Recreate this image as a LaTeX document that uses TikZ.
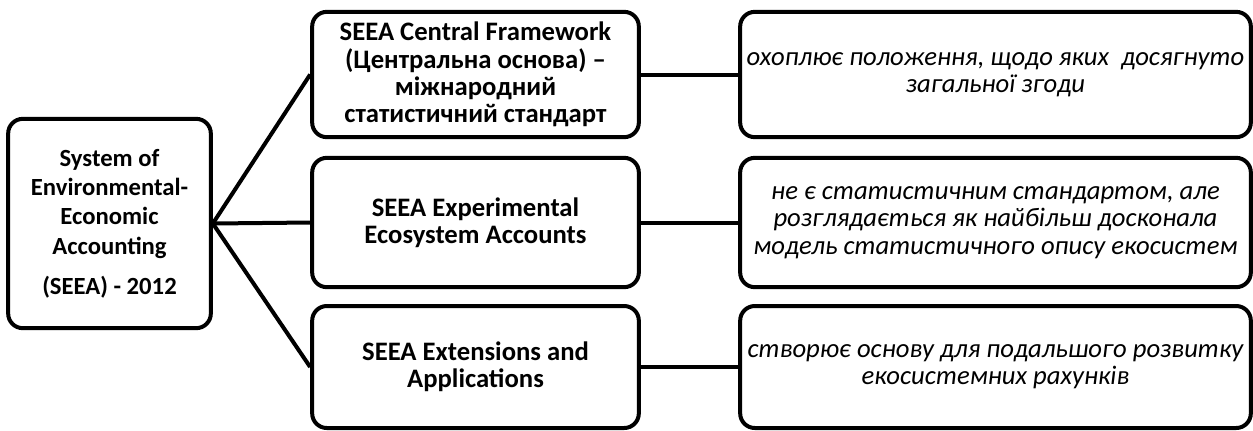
\documentclass[tikz,border=0pt]{standalone}
\usepackage{fontspec}
\setmainfont{Carlito}
\usepackage{tikz}
\usetikzlibrary{positioning}
\tikzstyle{mainbox} = [draw=black, line width=3pt, rounded corners=11pt, align=center, font=\fontsize{18.5}{22}\selectfont\bfseries, minimum width=152pt, minimum height=157pt, inner sep=0pt]
\tikzstyle{partbox} = [draw=black, line width=3pt, rounded corners=11pt, align=center, font=\fontsize{20}{20.5}\selectfont\bfseries, minimum width=245pt, inner sep=0pt]
\tikzstyle{notebox} = [draw=black, line width=3pt, rounded corners=11pt, align=center, font=\fontsize{20}{20.5}\selectfont\itshape, minimum width=383pt, inner sep=0pt]
\tikzstyle{link} = [line width=3pt]

\begin{document}
\begin{tikzpicture}[x=0.75pt,y=-0.75pt]
\useasboundingbox (0,0) rectangle (1253,430);
\node[mainbox] (seea) at (109.5,223.5) {System of\\Environmental-\\Economic\\Accounting\\[8pt](SEEA) - 2012};
\node[partbox, minimum height=94pt] (cf) at (475.5,74.5) {SEEA Central Framework\\(Центральна основа) --\\міжнародний\\статистичний стандарт};
\node[partbox, minimum height=97pt] (eea) at (475.5,222.5) {SEEA Experimental\\Ecosystem Accounts};
\node[partbox, minimum height=91.5pt] (ext) at (475.5,367) {SEEA Extensions and\\Applications};
\node[notebox, minimum height=94pt] (cfnote) at (995.5,74.5) {охоплює положення, щодо яких \ досягнуто\\загальної згоди};
\node[notebox, minimum height=97pt] (eeanote) at (995.5,222.5) {не є статистичним стандартом, але\\розглядається як найбільш досконала\\модель статистичного опису екосистем};
\node[notebox, minimum height=91.5pt] (extnote) at (995.5,367) {створює основу для подальшого розвитку\\екосистемних рахунків};
% from the whole to its parts
\draw[link] (seea.east) -- (cf.west);
\draw[link] (seea.east) -- (eea.west);
\draw[link] (seea.east) -- (ext.west);
% parts to their notes
\draw[link] (cf.east) -- (cfnote.west);
\draw[link] (eea.east) -- (eeanote.west);
\draw[link] (ext.east) -- (extnote.west);
\end{tikzpicture}
\end{document}
